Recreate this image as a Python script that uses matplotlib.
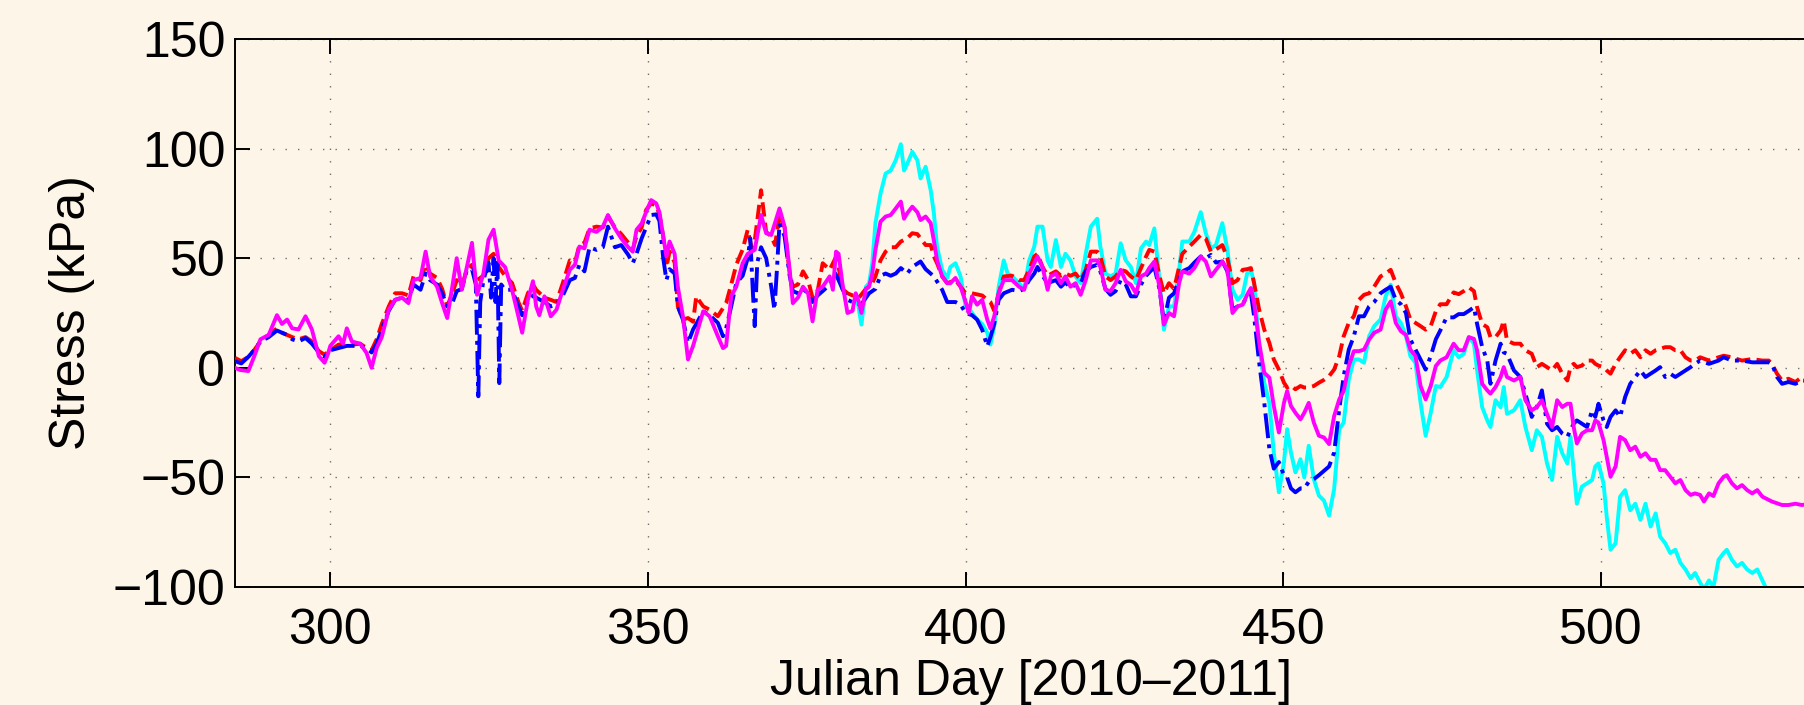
import matplotlib
matplotlib.use("Agg")
import matplotlib.pyplot as plt

# ---------------- data ----------------
magenta_day = [285.0, 285.8, 287.1, 288.0, 289.0, 290.3, 291.6, 292.4, 293.2, 294.0, 295.0, 296.1, 297.1, 298.2, 299.1, 299.6,
               300.0, 301.3, 302.0, 302.6, 303.4, 304.7, 305.7, 306.5, 307.3, 308.1, 309.2, 310.2, 311.3, 312.3, 313.1, 314.2,
               315.0, 315.7, 316.8, 317.6, 318.4, 319.2, 319.9, 320.7, 321.5, 322.3, 323.1, 324.1, 324.9, 325.7, 326.5, 327.5,
               328.6, 329.6, 330.2, 331.1, 331.9, 332.4, 332.9, 333.7, 334.7, 335.6, 336.6, 337.7, 338.5, 339.2, 340.0, 340.8,
               341.9, 342.9, 343.7, 344.8, 345.8, 346.9, 347.6, 348.2, 349.0, 349.7, 350.5, 351.3, 351.8, 352.4, 352.9, 353.4,
               354.2, 354.7, 355.5, 356.3, 357.1, 358.7, 359.7, 361.0, 361.8, 362.3, 363.1, 363.9, 364.9, 365.7, 366.8, 367.8,
               368.6, 369.4, 370.7, 371.5, 372.3, 372.8, 373.6, 374.4, 375.2, 375.9, 376.7, 377.5, 378.6, 379.1, 379.6, 380.0,
               380.6, 381.4, 382.2, 382.7, 383.2, 383.6, 384.3, 384.8, 385.3, 385.8, 386.6, 387.4, 388.2, 389.0, 389.8, 390.3,
               390.8, 391.6, 392.4, 392.9, 393.7, 394.5, 395.0, 395.5, 396.3, 397.1, 397.6, 398.4, 399.2, 400.0, 400.5, 401.0,
               401.8, 402.6, 403.4, 403.9, 404.5, 405.2, 406.0, 407.3, 408.4, 409.2, 410.0, 410.8, 411.3, 412.1, 412.9, 413.4,
               414.2, 415.0, 415.7, 416.5, 417.3, 418.1, 418.9, 419.7, 420.7, 421.2, 422.0, 422.8, 423.6, 424.4, 425.2, 426.0,
               426.8, 427.6, 428.4, 428.9, 429.7, 430.5, 431.2, 432.0, 432.8, 433.6, 434.1, 435.2, 436.0, 437.0, 437.8, 438.6,
               439.4, 440.4, 441.2, 442.0, 442.8, 443.6, 444.3, 444.9, 445.4, 446.2, 447.0, 447.8, 448.5, 449.3, 450.1, 450.6,
               451.2, 451.9, 452.7, 453.3, 454.0, 454.8, 455.6, 456.4, 457.2, 458.0, 458.8, 459.5, 460.3, 461.1, 461.9, 462.7,
               463.5, 464.3, 465.3, 466.1, 466.9, 467.7, 468.5, 469.3, 470.0, 470.8, 471.6, 472.4, 473.2, 474.0, 474.7, 475.7,
               476.8, 477.6, 478.4, 479.2, 480.0, 480.5, 481.3, 482.1, 482.6, 483.4, 484.2, 484.7, 485.2, 486.3, 487.3, 488.1,
               489.1, 489.9, 490.7, 491.5, 492.3, 493.1, 493.9, 494.7, 495.2, 495.7, 496.2, 497.0, 497.8, 498.6, 499.1, 499.6,
               500.4, 500.9, 501.5, 502.3, 503.0, 503.8, 504.6, 505.4, 506.2, 507.0, 507.8, 508.6, 509.3, 510.1, 510.9, 511.7,
               512.5, 513.3, 514.1, 514.8, 515.6, 516.2, 517.0, 517.7, 518.5, 519.3, 519.8, 520.6, 521.4, 522.2, 523.0, 523.8,
               524.6, 525.4, 526.4, 526.9, 527.7, 528.5, 529.5, 530.6, 531.6, 533.0]
magenta_val = [0, -1, -1.5, 5, 13, 15, 24, 20, 22, 18, 17.5, 23.5, 17.5, 5.3, 2.3, 6,
               10, 14.4, 11, 18, 12, 11, 6.8, 0, 9, 14, 26.5, 31, 32, 29.5, 40, 41,
               53, 41.7, 37, 29.5, 22.7, 37, 50, 35.6, 46, 57, 33.3, 43, 58.5, 63, 49, 46,
               35.6, 23.5, 16, 31, 39.5, 28, 24, 32.6, 23.5, 26.5, 35.6, 44.7, 47, 55.3, 54.5, 63,
               62, 64.4, 69.7, 63.6, 59, 55, 53, 63, 65.8, 71, 76.5, 75, 71, 60, 50.8, 57.6,
               52, 37, 23.5, 3.8, 10, 25.8, 23.5, 14.4, 9, 10, 32.6, 37, 47.7, 52, 53.8, 69.7,
               61.4, 60.6, 72.7, 64.4, 44.7, 29.5, 32, 37, 34, 21.2, 35.6, 37, 41.7, 35.6, 53, 52,
               38.6, 25, 26, 34, 30, 25, 36, 37, 43, 53.8, 66.7, 69, 69.7, 72.7, 75.8, 68,
               70.5, 73.5, 71, 67.4, 69, 66, 58, 49, 41.7, 38.6, 38.6, 41, 37, 30, 25, 32.6,
               28.8, 31, 22, 18, 23.5, 34, 40, 40, 37, 35.6, 43, 47.7, 50.8, 46, 35.6, 41.7,
               43, 38.6, 41.7, 37, 38.6, 33.3, 40, 49, 49, 46, 35.6, 35, 38.6, 44.7, 39.4, 37.9,
               34, 41.7, 43, 45.5, 48.5, 37, 19.7, 25, 23.5, 38.6, 44, 43, 45.5, 50.8, 48.5, 41.7,
               44.7, 48.5, 44.7, 25, 28, 28.8, 33.3, 36.4, 29.5, 11.4, -2.3, -4.5, -17.4, -29.5, -16, -10.6,
               -17.4, -20.5, -23.5, -20.5, -16, -25, -31, -31.8, -34.8, -22, -14.4, -10.6, 0.8, 7.6, 7.6, 8.3,
               12.9, 16, 17.4, 26.5, 30.3, 20.5, 16.7, 15, 8.3, 5.3, -8.3, -14.4, -8.3, 0.8, 3.3, 4.8,
               11, 8, 8, 14, 13.2, 8, -7.3, -10.3, -11.8, -8.8, -4.2, 0.3, -4.2, -5.8, -4.2, -14.8,
               -19.4, -17.9, -14.8, -21, -27, -14.8, -17.9, -16.4, -16.4, -27, -34.5, -30, -28.5, -28.5, -24, -25,
               -33, -40.6, -49.7, -45, -31.5, -33, -37.6, -36, -40.6, -39, -42, -42, -46.7, -46.7, -49.7, -52.7,
               -51.2, -55.8, -58, -57.3, -58, -61, -57.3, -58.5, -52.7, -49.7, -49, -52.7, -55, -53.5, -55.8, -57.3,
               -55.8, -58.8, -60.3, -61, -61.8, -62.6, -62.6, -62, -62.6, -62]

cyan_day = [383.0, 383.6, 384.3, 384.8, 385.3, 385.8, 386.6, 387.4, 388.2, 389.0, 389.8, 390.3, 390.8, 391.6, 392.4, 392.9,
            393.7, 394.5, 395.0, 395.5, 396.3, 397.1, 397.6, 398.4, 399.2, 400.0, 400.5, 401.8, 402.6, 403.4, 403.9, 404.5,
            405.2, 406.0, 406.6, 407.3, 408.4, 409.2, 410.0, 410.8, 411.3, 412.1, 412.9, 413.4, 414.2, 415.0, 415.7, 416.5,
            417.3, 418.1, 418.9, 419.7, 420.7, 421.2, 422.0, 422.8, 423.6, 424.4, 425.2, 426.0, 426.8, 427.6, 428.4, 428.9,
            429.7, 430.5, 431.2, 432.0, 432.8, 433.6, 434.1, 435.2, 436.0, 437.0, 437.8, 438.6, 439.4, 440.4, 441.2, 442.0,
            442.8, 443.6, 444.3, 444.9, 445.4, 446.2, 447.0, 447.8, 448.5, 449.3, 450.1, 450.6, 451.2, 451.9, 452.7, 453.3,
            454.0, 454.8, 455.6, 456.4, 457.2, 458.0, 458.8, 459.5, 460.3, 461.1, 461.9, 462.7, 463.5, 464.3, 465.3, 466.1,
            466.9, 467.7, 468.5, 469.3, 470.0, 470.8, 471.6, 472.4, 473.2, 474.0, 474.7, 475.7, 476.8, 477.6, 478.4, 479.2,
            480.0, 480.5, 481.3, 482.1, 482.6, 483.4, 484.2, 484.7, 485.2, 486.3, 487.3, 488.1, 489.1, 489.9, 490.7, 491.5,
            492.3, 493.1, 493.9, 494.7, 495.2, 495.7, 496.2, 497.0, 497.8, 498.6, 499.1, 499.6, 500.4, 500.9, 501.5, 502.3,
            503.0, 503.8, 504.6, 505.4, 506.2, 507.0, 507.8, 508.6, 509.3, 510.1, 510.9, 511.7, 512.5, 513.3, 514.1, 514.8,
            515.6, 516.2, 517.0, 517.7, 518.5, 519.3, 519.8, 520.6, 521.4, 522.2, 523.0, 523.8, 524.6, 525.4, 525.9, 526.5,
            528.0, 530.0, 533.0]
cyan_val = [30, 19.7, 37, 38.6, 47.7, 66, 79.5, 88.6, 90, 94.7, 102, 90, 93, 98.5, 94.7, 86.4,
            91.7, 81, 70.5, 55.3, 44.7, 41, 46, 47.7, 41.7, 28, 27, 22, 20, 16, 10.6, 19,
            37, 49, 43, 41.7, 38.6, 36, 49, 55.3, 64.4, 64.4, 49, 46, 58.3, 46, 52, 49,
            41.7, 38.6, 52, 64.4, 68, 55.3, 43, 41.7, 43, 56.8, 49, 46, 38.6, 54.5, 57.6, 56,
            63.6, 40, 17.4, 28, 28, 44.7, 57.6, 57.6, 62, 71, 61.4, 54.5, 56, 66, 53.8, 35.6,
            31, 33.3, 43, 44.7, 38.6, 9.8, -6.8, -16, -38.6, -56.8, -43, -28, -38.6, -47.7, -41.7, -50,
            -35.6, -50.8, -58.3, -60.6, -67.4, -55.3, -28, -25, -5.3, 3.8, 3.8, 2.3, 14.4, 19, 22, 32.6,
            37.9, 23.5, 20.5, 14.4, 5.3, 2.3, -16, -31, -20.5, -8.3, -8.8, -4.2, 8, 4.8, 6.4, 14,
            11, -1.2, -18, -24, -27, -14.8, -18, -8.8, -21, -19.4, -14.8, -27, -37.6, -28.5, -31.5, -43.6,
            -51.2, -31.5, -39, -43.6, -31.5, -46.7, -62, -54.2, -52.7, -51.2, -45, -43.6, -52.7, -67.9, -83, -80,
            -58.8, -55.8, -65, -62, -69.4, -62, -72.4, -66.4, -77, -80, -84.5, -83, -89, -92, -96, -93.6,
            -98, -101, -97, -100, -87.6, -84.5, -83, -87.6, -90.6, -89, -92, -93.6, -92, -97, -100, -104,
            -106, -108, -110]

red_day = [285.0, 286.0, 287.1, 288.0, 289.0, 290.3, 291.6, 292.4, 293.2, 294.0, 295.0, 296.1, 297.1, 298.2, 299.1, 300.0,
           301.3, 302.6, 303.4, 304.7, 305.7, 306.5, 307.3, 308.1, 309.2, 310.2, 311.3, 312.3, 313.1, 314.2, 315.0, 315.7,
           316.8, 317.6, 318.4, 319.2, 319.9, 320.7, 321.5, 322.3, 323.1, 324.1, 324.9, 325.7, 326.5, 327.5, 328.6, 329.6,
           330.2, 331.1, 331.9, 332.4, 333.7, 334.7, 335.6, 336.6, 337.7, 338.5, 339.2, 340.0, 340.8, 341.9, 342.9, 343.7,
           344.8, 345.8, 346.9, 347.6, 348.2, 349.0, 349.7, 350.5, 351.3, 351.8, 352.4, 352.9, 353.4, 354.2, 354.7, 355.5,
           356.3, 357.1, 357.6, 358.2, 358.7, 359.7, 361.0, 362.3, 363.1, 363.9, 364.9, 365.7, 366.3, 366.8, 367.8, 368.6,
           369.4, 370.0, 370.7, 371.5, 372.3, 372.8, 373.6, 374.4, 375.2, 375.9, 376.7, 377.5, 378.6, 379.5, 380.0, 380.6,
           381.4, 382.2, 382.7, 383.2, 384.3, 384.8, 385.3, 385.8, 386.6, 387.4, 388.2, 389.0, 389.8, 390.8, 391.6, 392.4,
           393.7, 394.5, 395.0, 395.5, 396.3, 397.1, 398.4, 399.2, 400.0, 401.0, 402.6, 403.4, 403.9, 404.5, 405.2, 406.0,
           407.3, 408.4, 409.2, 410.0, 410.8, 411.3, 412.1, 412.9, 414.2, 415.0, 415.7, 416.5, 417.3, 418.1, 418.9, 419.7,
           420.7, 421.2, 422.0, 422.8, 423.6, 424.4, 425.2, 426.0, 426.8, 427.6, 428.4, 428.9, 429.7, 430.5, 431.2, 432.0,
           432.8, 433.6, 434.1, 435.2, 436.0, 437.0, 437.8, 438.6, 439.4, 440.4, 441.2, 442.0, 442.8, 443.6, 444.3, 444.9,
           445.4, 446.2, 447.0, 447.8, 448.5, 449.3, 450.1, 450.6, 451.2, 451.9, 452.7, 453.3, 454.0, 454.8, 455.6, 456.4,
           457.2, 458.0, 458.8, 459.5, 460.3, 461.1, 461.9, 462.7, 463.5, 464.3, 465.3, 466.1, 466.9, 467.7, 468.5, 469.3,
           470.0, 470.8, 471.6, 472.4, 473.2, 474.0, 474.7, 475.7, 476.8, 477.6, 478.4, 479.2, 480.0, 480.5, 481.3, 482.1,
           482.6, 483.4, 484.2, 484.7, 485.2, 486.3, 487.3, 488.1, 489.1, 489.9, 490.7, 491.5, 492.3, 493.1, 493.9, 494.7,
           495.2, 495.7, 496.2, 497.0, 497.8, 498.6, 499.1, 499.6, 500.4, 500.9, 501.5, 502.3, 503.0, 503.8, 504.6, 505.4,
           506.2, 507.0, 507.8, 508.6, 509.3, 510.1, 510.9, 511.7, 512.5, 513.3, 514.1, 514.8, 515.6, 517.0, 518.5, 519.3,
           520.6, 521.4, 522.2, 523.8, 525.4, 526.4, 526.9, 527.7, 528.5, 529.5, 530.6, 531.6, 533.0]
red_val = [4.5, 3, 5, 8, 12, 15, 18, 16, 15, 14, 13, 14, 12, 7.6, 6, 8,
           10.6, 11, 10.5, 11, 9, 8, 13, 20, 28, 34, 34, 33, 41.7, 40, 47, 43,
           41, 36, 28, 34, 40, 37, 45, 47, 40, 42, 50, 52, 46, 42, 38.7, 30,
           26, 34, 38, 35.6, 32, 31, 30, 38.7, 49, 48, 56, 57, 63.6, 64.4, 64, 69,
           64, 61, 57, 54, 60, 64, 72, 75, 74, 70, 60, 46, 53, 48, 28, 22,
           22.7, 21, 32.6, 30, 28, 26.5, 23.5, 29.5, 38, 47, 54, 63, 55, 58, 81, 62,
           60, 56, 70, 64, 43, 37, 38, 44, 40, 32, 35, 47.7, 44.7, 50, 46, 36,
           34, 33, 33, 32, 36, 37, 38.6, 41.7, 49, 53, 55, 55, 57.6, 59, 61.4, 61,
           56, 56, 50.8, 47.7, 41.7, 38.6, 40, 37, 34, 34, 33, 31, 30, 26, 34, 41.7,
           42, 40, 40, 44.7, 50.8, 52, 46, 42, 44, 42, 43, 42, 43, 40, 44.7, 53,
           53, 51, 41.7, 40, 41.7, 44.7, 44, 41.7, 40, 45.5, 50.8, 53.8, 53, 42, 34, 38.6,
           36, 46, 52, 55.3, 57.6, 60.6, 59, 53, 54, 56, 50, 38.6, 40, 44.7, 45, 45.5,
           38.6, 26.5, 17.4, 11.4, 3.8, -0.8, -6.8, -9, -8, -9.8, -8.3, -9, -9, -8.3, -6.8, -5.5,
           -3.8, -0.8, 5.3, 14.4, 20.5, 23.5, 31, 33.3, 34, 37, 41.7, 43, 44.7, 38.6, 34, 28,
           22, 20.5, 19, 17.4, 19, 25.8, 29, 29, 34.4, 33.6, 35, 36.7, 35, 27.6, 20, 18.5,
           14, 14, 17, 21.5, 12.4, 11, 11, 8, 6.4, 0.3, 1.8, 0.3, -1.2, 1.8, -2.7, -5.8,
           0.3, 1.8, 0.3, 1, 3.3, 3.3, 1.8, 1, 0.3, -1.2, -2.7, 1.8, 4.8, 8, 6.4, 8,
           4.8, 8, 6.4, 8, 8.6, 9.4, 9.4, 8, 8, 4.8, 3.3, 3.3, 4.8, 3.3, 4.8, 5.5,
           4.8, 4, 3.3, 4, 3.3, 3.3, 1.8, -2.7, -5.8, -5, -6.5, -4.2, -5]

blue_day = [285.0, 286.0, 287.1, 288.0, 289.0, 290.3, 291.6, 292.4, 293.2, 294.0, 295.0, 296.1, 297.1, 298.2, 299.1, 300.0,
            301.3, 302.6, 303.4, 304.7, 305.7, 306.5, 307.3, 308.1, 309.2, 310.2, 311.3, 312.3, 313.1, 314.2, 315.0, 315.7,
            316.8, 317.6, 318.4, 319.2, 319.9, 320.7, 321.5, 322.3, 322.9, 323.3, 323.6, 324.1, 324.9, 325.3, 325.7, 326.0,
            326.3, 326.6, 326.9, 327.5, 328.6, 329.6, 330.2, 331.1, 331.9, 332.4, 333.7, 334.7, 335.6, 336.6, 337.7, 338.5,
            339.2, 340.0, 340.8, 341.9, 342.9, 343.7, 344.8, 345.8, 346.9, 347.6, 348.2, 349.0, 349.7, 350.5, 351.3, 351.8,
            352.4, 352.9, 353.4, 354.2, 354.7, 355.5, 356.3, 357.1, 357.6, 358.7, 359.7, 361.0, 361.8, 362.3, 363.1, 363.9,
            364.9, 365.7, 366.1, 366.5, 366.8, 367.2, 367.8, 368.6, 369.4, 369.9, 370.3, 370.7, 371.5, 372.3, 372.8, 373.6,
            374.4, 375.2, 375.9, 376.7, 377.5, 378.6, 379.5, 380.0, 380.6, 381.4, 382.2, 383.2, 383.6, 384.8, 385.8, 386.6,
            387.4, 388.2, 389.0, 389.8, 390.8, 391.6, 392.9, 393.7, 395.0, 396.3, 397.1, 398.4, 399.2, 400.0, 401.0, 401.8,
            402.6, 403.4, 403.9, 404.5, 405.2, 406.0, 407.3, 408.4, 409.2, 410.0, 410.8, 411.3, 412.1, 412.9, 414.2, 415.0,
            415.7, 416.5, 417.3, 418.1, 418.9, 419.7, 420.7, 421.2, 422.0, 422.8, 423.6, 424.4, 425.2, 426.0, 426.8, 427.6,
            428.4, 429.7, 430.5, 431.2, 432.0, 432.8, 433.6, 434.1, 435.2, 436.0, 437.0, 437.8, 438.6, 439.4, 440.4, 441.2,
            442.0, 442.8, 443.6, 444.3, 444.9, 445.4, 446.2, 447.0, 447.8, 448.5, 449.3, 450.1, 450.6, 451.2, 451.9, 452.7,
            453.3, 454.0, 454.8, 455.6, 456.4, 457.2, 458.0, 458.8, 459.5, 460.3, 461.1, 461.9, 462.7, 463.5, 464.3, 465.3,
            466.1, 466.9, 467.7, 468.5, 469.3, 470.0, 470.8, 471.6, 472.4, 473.2, 474.0, 474.7, 475.7, 476.8, 477.6, 478.4,
            479.2, 480.0, 480.5, 481.3, 482.1, 482.6, 483.4, 484.2, 484.7, 485.2, 486.3, 487.3, 488.1, 489.1, 489.9, 490.7,
            491.5, 492.3, 493.1, 493.9, 494.7, 495.2, 495.7, 496.2, 497.0, 497.8, 498.6, 499.1, 499.6, 500.4, 500.9, 501.5,
            502.3, 503.0, 503.8, 504.6, 505.4, 506.2, 507.0, 507.8, 508.6, 509.3, 510.1, 510.9, 511.7, 512.5, 513.3, 514.1,
            514.8, 515.6, 517.0, 518.5, 519.3, 520.6, 521.4, 522.2, 523.8, 525.4, 526.4, 526.9, 527.7, 528.5, 529.5, 530.6,
            531.6, 533.0]
blue_val = [3, 2, 5, 8, 12, 14, 17, 16, 15, 13, 12, 13.6, 11, 7, 5, 8,
            9, 10, 10, 10, 9, 7, 11, 17.5, 26, 31, 32, 31, 38, 35.6, 43, 40,
            38, 34, 28, 29.5, 35, 36, 44.7, 45, 38, -13, 30, 40, 48, 32, 50, 30,
            48, -7, 38, 35.6, 35.6, 28, 24, 30, 33, 32, 30, 28, 29, 33, 40, 41,
            47, 44, 55, 53.8, 55, 64.4, 55, 56, 51.5, 47.7, 52, 59, 64, 69.7, 70, 67,
            50, 40, 45, 43, 28, 22, 11.4, 17.5, 20, 25.8, 24, 20.5, 14.4, 18, 28, 38.7,
            42, 50, 59, 35, 19, 48, 55, 50, 37, 26.5, 45, 65.8, 60, 42, 35, 34,
            36, 34, 30, 33, 35, 38, 43, 40, 36, 31, 30, 29, 29, 34, 36, 42,
            43, 42, 43, 45.5, 43, 46, 48.5, 45, 41.7, 35.6, 30, 30, 28.8, 25, 24, 22,
            17.4, 9.8, 14, 20, 31, 34, 35.6, 35, 36, 40, 43, 46, 42, 38.6, 40, 37,
            39, 36.5, 38, 38.6, 44, 46, 47, 44, 36, 33.3, 35, 40, 38, 32.6, 32.6, 38,
            42, 46, 36, 21, 32, 34, 40, 44, 45.5, 48, 50.8, 50, 51.5, 48, 48.5, 44,
            26.5, 28, 28.8, 33, 34, 23.5, 2.3, -16, -37, -46, -43, -49, -50, -55, -56.8, -55,
            -55, -52, -50.8, -49, -47, -45, -38.6, -19, -3.8, 8.3, 14.4, 23.5, 23.5, 28, 30, 34,
            35.6, 37, 31, 29, 25, 12.9, 8.3, 3.8, -0.8, 5.3, 13, 17, 23, 23, 24.5, 24.5,
            26, 27.6, 20, 9.4, 3.3, -7.3, 3.3, 11, 7, 6.4, -1.2, -4.2, -11.8, -22.4, -17.9, -10.3,
            -25.5, -28.5, -27, -30, -31.5, -28.5, -25.5, -24, -25.5, -27, -19.4, -22.4, -16.4, -24, -27, -22.4,
            -19.4, -22.4, -13.3, -7.3, -4.2, -1.2, -4.2, -2.7, -1.2, 0.3, -4.2, -2.7, -4.2, -2.7, -1.2, 0.3,
            1.8, 3.3, 1.8, 3.3, 4.8, 3.3, 3.3, 3.3, 2.5, 2.5, 2.5, 1.8, -4.2, -7.3, -6.5, -7.3,
            -5.8, -6]

x_ticks = [300, 350, 400, 450, 500]
y_ticks = [-100, -50, 0, 50, 100, 150]
x_label = "Julian Day [2010\u20132011]"
y_label = "Stress (kPa)"

# ---------------- figure ----------------
BG = "#fdf5e8"
plt.rcParams["font.family"] = ["Liberation Sans", "DejaVu Sans"]

W, H = 1804, 705
fig = plt.figure(figsize=(W / 100, H / 100), dpi=100, facecolor=BG)

x_min, x_max = 285.0, 545.0
px_per_day = 6.3535
ax_left, ax_top, ax_bottom = 235, 39, 587
ax = fig.add_axes([ax_left / W, 1 - ax_bottom / H,
                   (x_max - x_min) * px_per_day / W, (ax_bottom - ax_top) / H])
ax.set_facecolor(BG)

lw = 2.8
ax.plot(red_day, red_val, color="#ff0000", linestyle="--", linewidth=lw, zorder=3)
ax.plot(blue_day, blue_val, color="#0000ff", linestyle="-.", linewidth=lw, zorder=4)
ax.plot(cyan_day, cyan_val, color="#00ffff", linestyle="-", linewidth=lw, zorder=2)
ax.plot(magenta_day, magenta_val, color="#ff00ff", linestyle="-", linewidth=lw, zorder=5)

ax.set_xlim(x_min, x_max)
ax.set_ylim(-100, 150)
ax.set_xticks(x_ticks)
ax.set_yticks(y_ticks)

ax.grid(True, color="#707070", linestyle=(0, (1, 8)), linewidth=1.0)
ax.set_axisbelow(True)

for s in ax.spines.values():
    s.set_linewidth(1.4)
    s.set_color("black")
ax.spines["right"].set_visible(False)

ax.tick_params(axis="both", direction="in", length=10.5, width=1.4,
               top=True, right=False, labelsize=36, colors="black")
ax.tick_params(axis="x", pad=15)
ax.tick_params(axis="y", pad=7)

axes_w = (x_max - x_min) * px_per_day
ax.set_xlabel(x_label, fontsize=36)
ax.xaxis.set_label_coords((1031 - ax_left) / axes_w, (ax_bottom - 695) / (ax_bottom - ax_top))
ax.xaxis.label.set_va("baseline")

ax.set_ylabel(y_label, fontsize=36)
ax.yaxis.set_label_coords((72 - ax_left) / axes_w, 0.5)
ax.yaxis.label.set_va("center")

fig.savefig("out.png", dpi=100, facecolor=BG)
